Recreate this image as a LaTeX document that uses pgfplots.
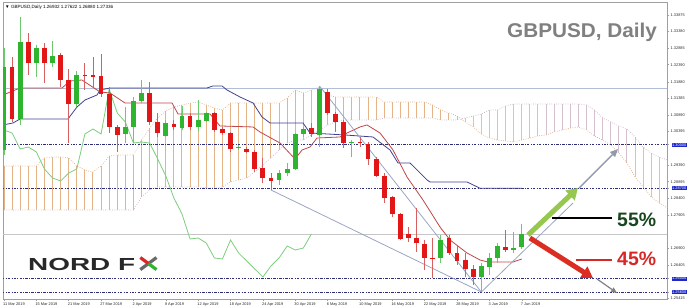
\documentclass[border=0pt]{standalone}
\usepackage{fontspec}
\setmainfont{Liberation Sans}
\usepackage{pgfplots}
\pgfplotsset{compat=1.18}
\usepackage{pgfplotstable}
\usetikzlibrary{arrows.meta}

\definecolor{bull}{RGB}{46,180,46}
\definecolor{bear}{RGB}{226,22,22}
\definecolor{bullwick}{RGB}{110,200,110}
\definecolor{bearwick}{RGB}{215,95,95}
\definecolor{sandy}{RGB}{228,180,135}
\definecolor{sandyd}{RGB}{222,170,125}
\definecolor{thist}{RGB}{214,192,208}
\definecolor{thistd}{RGB}{200,176,196}
\definecolor{tenkan}{RGB}{190,70,70}
\definecolor{kijun}{RGB}{65,65,145}
\definecolor{chikou}{RGB}{125,205,125}
\definecolor{hline}{RGB}{45,45,120}
\definecolor{trend}{RGB}{155,165,195}
\definecolor{resline}{RGB}{176,190,215}
\definecolor{boxblue}{RGB}{30,40,200}
\definecolor{greentxt}{RGB}{25,70,30}
\definecolor{redtxt}{RGB}{215,40,40}
\definecolor{arrowgreen}{RGB}{150,200,80}
\definecolor{arrowred}{RGB}{220,45,35}
\definecolor{logodark}{RGB}{40,40,40}

\pgfplotstableread{
i o h l c
0 1.29843 1.32889 1.29694 1.32322
2 1.30768 1.33815 1.30590 1.33068
4 1.32441 1.32979 1.32023 1.32889
6 1.32441 1.33098 1.32322 1.32651
9 1.31217 1.32202 1.31127 1.32083
15 1.30321 1.31127 1.30051 1.30530
16 1.30530 1.31426 1.30051 1.31306
17 1.31306 1.31933 1.31246 1.31545
20 1.30261 1.30739 1.30231 1.30649
22 1.30500 1.31157 1.30440 1.30858
24 1.30530 1.31336 1.30410 1.30739
25 1.30709 1.30977 1.30679 1.30947
29 1.29902 1.29992 1.29843 1.29932
34 1.28947 1.29245 1.28798 1.29155
35 1.29155 1.29454 1.29066 1.29275
36 1.29275 1.30350 1.29245 1.30321
37 1.30321 1.30530 1.30231 1.30470
39 1.30291 1.31754 1.29932 1.31664
43 1.30051 1.30141 1.29634 1.30081
54 1.26617 1.27304 1.26467 1.27154
59 1.26049 1.26467 1.25601 1.26378
60 1.26348 1.26766 1.26109 1.26617
61 1.26617 1.27065 1.26467 1.26975
63 1.26856 1.27393 1.26766 1.26915
64 1.26932 1.27622 1.26880 1.27336
}\bull

\pgfplotstableread{
i o h l c
1 1.32322 1.32621 1.30679 1.30768
3 1.33068 1.33337 1.32083 1.32441
5 1.32889 1.33038 1.31843 1.32441
7 1.32681 1.32740 1.31724 1.31933
8 1.31933 1.32262 1.30051 1.31217
10 1.32083 1.32441 1.31635 1.32053
11 1.32083 1.32621 1.31724 1.32023
12 1.32053 1.32711 1.31426 1.31516
13 1.31516 1.31724 1.30350 1.30530
14 1.30530 1.30590 1.29783 1.30291
18 1.31545 1.31873 1.30590 1.30679
19 1.30679 1.30947 1.30231 1.30350
21 1.30620 1.30739 1.30440 1.30530
23 1.30858 1.30947 1.30440 1.30530
26 1.30947 1.30977 1.30380 1.30440
27 1.30470 1.30530 1.30291 1.30350
28 1.30350 1.30380 1.29783 1.29872
30 1.29872 1.29932 1.29753 1.29783
31 1.29783 1.29843 1.29185 1.29275
32 1.29305 1.29604 1.28857 1.29006
33 1.29006 1.29155 1.28648 1.28917
38 1.30500 1.30649 1.30231 1.30321
40 1.31575 1.31664 1.30888 1.30947
41 1.30918 1.30977 1.30380 1.30679
42 1.30679 1.30739 1.29902 1.30051
44 1.30081 1.30231 1.29932 1.30051
45 1.30022 1.30081 1.29395 1.29574
46 1.29574 1.29634 1.29036 1.29066
47 1.29066 1.29155 1.28259 1.28409
48 1.28439 1.28469 1.27841 1.27931
49 1.27931 1.27961 1.27154 1.27184
50 1.27334 1.27543 1.27094 1.27214
51 1.27214 1.28110 1.26796 1.27064
52 1.27035 1.27154 1.26258 1.26617
53 1.26617 1.27214 1.26019 1.26587
55 1.27214 1.27304 1.26707 1.26766
56 1.26766 1.27005 1.26408 1.26527
57 1.26557 1.26766 1.26049 1.26288
58 1.26288 1.26408 1.25810 1.26049
62 1.26945 1.27453 1.26796 1.26856
}\bear

\pgfplotstableread{
i a b
0 1.29365 1.28050
1 1.29365 1.28050
2 1.29365 1.28050
3 1.29365 1.28050
4 1.29365 1.28050
5 1.29604 1.28050
6 1.29634 1.28050
7 1.29634 1.28050
8 1.29604 1.28050
9 1.29365 1.28050
10 1.29245 1.28050
11 1.29185 1.28050
12 1.29365 1.28050
13 1.29664 1.28050
14 1.29694 1.28050
15 1.29694 1.28050
16 1.29694 1.28050
17 1.30141 1.28439
18 1.30500 1.28648
19 1.30798 1.28738
20 1.31008 1.28738
21 1.31127 1.28738
22 1.31187 1.28738
23 1.31246 1.28738
24 1.31276 1.28738
25 1.31187 1.28708
26 1.31097 1.28708
27 1.31037 1.28738
28 1.31246 1.28887
29 1.31246 1.28947
30 1.31246 1.29006
31 1.31246 1.29185
32 1.31246 1.29395
33 1.31246 1.29604
34 1.31246 1.29843
35 1.31396 1.30051
36 1.31635 1.30141
37 1.31545 1.30141
38 1.31635 1.30291
39 1.31724 1.30440
40 1.31486 1.30590
41 1.31426 1.30679
42 1.31426 1.30739
43 1.31426 1.30739
44 1.31426 1.30739
45 1.31426 1.30739
46 1.31426 1.30739
47 1.31276 1.30798
48 1.31276 1.30798
49 1.31276 1.30798
50 1.31276 1.30798
51 1.31276 1.30798
52 1.31276 1.30798
53 1.31187 1.30798
54 1.31037 1.30739
55 1.30947 1.30739
56 1.30858 1.30739
57 1.30679 1.30798
58 1.30530 1.30858
59 1.30321 1.30918
60 1.30201 1.31037
61 1.30141 1.31037
62 1.30111 1.31157
63 1.30081 1.31217
64 1.30141 1.31217
65 1.30201 1.31217
66 1.30261 1.31217
67 1.30291 1.31217
68 1.30380 1.31217
69 1.30440 1.31217
70 1.30500 1.31217
71 1.30530 1.31217
72 1.30440 1.31187
73 1.30261 1.31037
74 1.30141 1.30798
75 1.29992 1.30679
76 1.29753 1.30560
77 1.29454 1.30470
78 1.29036 1.30231
79 1.28738 1.29932
80 1.28439 1.29753
81 1.28259 1.29634
82 1.28110 1.29544
}\cloud

\pgfplotstableread{
x y
-0.12 1.31486
1.98 1.31694
7.17 1.31694
8.16 1.31903
9.64 1.31933
11.87 1.31575
13.10 1.31545
14.96 1.31246
20.77 1.31246
21.51 1.30918
25.46 1.30918
26.70 1.30560
30.78 1.30530
31.64 1.30380
34.12 1.30051
35.97 1.29574
36.84 1.29843
37.82 1.29932
38.69 1.30201
41.53 1.30231
42.40 1.30350
44.00 1.30530
44.87 1.30590
46.48 1.30350
48.08 1.29843
49.81 1.29036
51.79 1.28349
53.89 1.27543
55.13 1.27154
57.23 1.26766
58.84 1.26557
59.83 1.26497
62.92 1.26497
64.00 1.26587
}\tenkan

\pgfplotstableread{
x y
-0.12 1.30590
1.11 1.30649
1.98 1.30768
7.91 1.30768
9.02 1.31127
10.01 1.31336
11.50 1.31486
11.87 1.31635
13.10 1.31694
25.09 1.31694
25.83 1.31754
26.95 1.31754
27.56 1.31635
29.17 1.31426
30.78 1.31246
31.89 1.30828
32.88 1.30649
36.96 1.30649
37.82 1.30350
42.15 1.30291
45.61 1.30231
47.71 1.29843
48.70 1.29454
50.19 1.29454
52.29 1.28947
52.66 1.28887
57.23 1.28887
58.84 1.28700
64.00 1.28700
}\kijun

\pgfplotstableread{
i v
0 1.30440
1 1.30350
2 1.29872
3 1.29932
4 1.29783
5 1.29275
6 1.29006
7 1.28917
8 1.29155
9 1.29275
10 1.30321
11 1.30470
12 1.30321
13 1.31664
14 1.30947
15 1.30679
16 1.30051
17 1.30081
18 1.30051
19 1.29574
20 1.29066
21 1.28409
22 1.27931
23 1.27184
24 1.27214
25 1.27064
26 1.26617
27 1.26587
28 1.27154
29 1.26766
30 1.26527
31 1.26288
32 1.26049
33 1.26378
34 1.26617
35 1.26975
36 1.26856
37 1.26915
38 1.27336
}\chikou

\begin{document}
\begin{tikzpicture}
\useasboundingbox (0,0) rectangle (690bp,308bp);
\begin{axis}[
  at={(3bp,9bp)}, anchor=south west,
  scale only axis, width=664bp, height=297bp,
  xmin=-0.124, xmax=81.95, ymin=1.25392, ymax=1.34263,
  axis line style={draw=gray!75, line width=0.8bp},
  tick align=outside, major tick length=2bp,
  tick style={draw=gray!75, line width=0.5bp},
  xtick pos=left, ytick pos=right, yticklabel pos=right,
  xtick={0,4,...,64},
  xticklabels={11 Mar 2019,15 Mar 2019,21 Mar 2019,27 Mar 2019,2 Apr 2019,8 Apr 2019,12 Apr 2019,18 Apr 2019,24 Apr 2019,30 Apr 2019,6 May 2019,10 May 2019,16 May 2019,22 May 2019,28 May 2019,3 Jun 2019,7 Jun 2019},
  xticklabel style={font=\fontsize{3.9}{4}\selectfont, text=black!85, anchor=north west, inner sep=0pt, xshift=-1bp, yshift=-1.2bp},
  ytick={1.25415,1.26405,1.26900,1.27905,1.28400,1.28895,1.29390,1.30395,1.30890,1.31385,1.31880,1.32390,1.32885,1.33380,1.33875},
  yticklabels={1.25415,1.26405,1.26900,1.27905,1.28400,1.28895,1.29390,1.30395,1.30890,1.31385,1.31880,1.32390,1.32885,1.33380,1.33875},
  yticklabel style={font=\fontsize{3.9}{4}\selectfont, text=black!85, anchor=west, inner sep=0pt, xshift=1.5bp},
  extra y ticks={1.30000,1.28700,1.26000,1.25600},
  extra y tick labels={1.30000,1.28700,1.26000,1.25600},
  extra y tick style={yticklabel style={fill=boxblue, text=white, inner sep=0.6bp, xshift=0.9bp}},
  every axis plot/.append style={mark=none},
]
% cloud hatching
\addplot[draw=none, mark=none, forget plot, restrict x to domain=0:56,
  error bars/.cd, y dir=plus, y explicit, error mark=none,
  error bar style={draw=sandy, line width=1bp}]
  table[x=i, y expr={min(\thisrow{a},\thisrow{b})}, y error plus expr={abs(\thisrow{a}-\thisrow{b})}] {\cloud};
\addplot[draw=none, mark=none, forget plot, restrict x to domain=57:82,
  error bars/.cd, y dir=plus, y explicit, error mark=none,
  error bar style={draw=thist, line width=1bp}]
  table[x=i, y expr={min(\thisrow{a},\thisrow{b})}, y error plus expr={abs(\thisrow{a}-\thisrow{b})}] {\cloud};
% cloud boundaries
\addplot[sandyd, mark=none, line width=0.7bp, dash pattern=on 0.7bp off 1.6bp] table[x=i, y=a] {\cloud};
\addplot[thistd, mark=none, line width=0.7bp, dash pattern=on 0.7bp off 1.6bp] table[x=i, y=b] {\cloud};
% horizontal lines
\addplot[resline, mark=none, line width=0.8bp] coordinates {(-1,1.31694) (83,1.31694)};
\addplot[gray!45, mark=none, line width=0.7bp] coordinates {(-1,1.27336) (83,1.27336)};
\addplot[hline, mark=none, line width=0.7bp, dash pattern=on 2.5bp off 1.3bp on 0.8bp off 1.3bp] coordinates {(-1,1.30000) (83,1.30000)};
\addplot[hline, mark=none, line width=0.7bp, dash pattern=on 2.5bp off 1.3bp on 0.8bp off 1.3bp] coordinates {(-1,1.28700) (83,1.28700)};
\addplot[hline, mark=none, line width=0.7bp, dash pattern=on 2.5bp off 1.3bp on 0.8bp off 1.3bp] coordinates {(-1,1.26000) (83,1.26000)};
\addplot[hline, mark=none, line width=0.7bp, dash pattern=on 2.5bp off 1.3bp on 0.8bp off 1.3bp] coordinates {(-1,1.25600) (83,1.25600)};
% ichimoku lines
\addplot[chikou, mark=none, line width=0.8bp] table[x=i, y=v] {\chikou};
\addplot[kijun, mark=none, line width=0.8bp] table[x=x, y=y] {\kijun};
\addplot[tenkan, mark=none, line width=0.8bp] table[x=x, y=y] {\tenkan};
% trend lines
\addplot[trend, mark=none, line width=0.8bp] coordinates {(39,1.31754) (59,1.25601)};
\addplot[trend, mark=none, line width=0.8bp] coordinates {(33,1.28648) (59,1.25601)};
\addplot[trend, mark=none, line width=0.8bp] coordinates {(59,1.25601) (70.33,1.28259)};
% candles: wicks
\addplot[draw=none, mark=none, forget plot, error bars/.cd, y dir=plus, y explicit, error mark=none,
  error bar style={draw=bullwick, line width=0.9bp}]
  table[x=i, y=l, y error plus expr={\thisrow{h}-\thisrow{l}}] {\bull};
\addplot[draw=none, mark=none, forget plot, error bars/.cd, y dir=plus, y explicit, error mark=none,
  error bar style={draw=bearwick, line width=0.9bp}]
  table[x=i, y=l, y error plus expr={\thisrow{h}-\thisrow{l}}] {\bear};
% candles: bodies
\addplot[draw=none, mark=none, forget plot, error bars/.cd, y dir=plus, y explicit, error mark=none,
  error bar style={draw=bull, line width=4.8bp}]
  table[x=i, y=o, y error plus expr={\thisrow{c}-\thisrow{o}}] {\bull};
\addplot[draw=none, mark=none, forget plot, error bars/.cd, y dir=plus, y explicit, error mark=none,
  error bar style={draw=bear, line width=4.8bp}]
  table[x=i, y=c, y error plus expr={\thisrow{o}-\thisrow{c}}] {\bear};
% arrows and annotations
\draw[trend!70!gray, line width=1.4bp, -{Triangle[width=7bp,length=8bp]}] (axis cs:71.08,1.28708) -- (axis cs:75.9,1.29872);
\draw[arrowgreen, line width=5bp, -{Triangle[width=13bp,length=11bp]}] (axis cs:64.77,1.27304) -- (axis cs:70.95,1.28708);
\draw[gray, line width=1.2bp, -{Triangle[width=5bp,length=6bp]}] (axis cs:73.3,1.25989) -- (axis cs:75.77,1.25571);
\draw[arrowred, line width=5bp, -{Triangle[width=13bp,length=11bp]}] (axis cs:65.0,1.27214) -- (axis cs:72.8,1.26019);
\draw[black, line width=1.2bp] (axis cs:67.74,1.27811) -- (axis cs:75.15,1.27811);
\draw[redtxt, line width=1.2bp] (axis cs:70.7,1.26557) -- (axis cs:75.15,1.26557);
\node[anchor=base west, inner sep=0pt, font=\fontsize{19.5}{20}\bfseries, text=greentxt] at (axis cs:75.77,1.27543) {55\%};
\node[anchor=base west, inner sep=0pt, font=\fontsize{19.5}{20}\bfseries, text=redtxt] at (axis cs:75.77,1.26378) {45\%};
\node[anchor=base east, inner sep=0pt, font=\fontsize{20}{20}\bfseries, text=black!50] at (axis cs:80.72,1.33188) {\scalebox{1.04}[1]{GBPUSD, Daily}};
\node[anchor=base west, inner sep=0pt, font=\fontsize{17.5}{18}\bfseries, text=logodark] at (axis cs:2.97,1.26258) {\scalebox{1.6}[1]{NORD F}};
\draw[logodark!70, line width=3.2bp] (axis cs:18.85,1.26630) -- (axis cs:16.85,1.26270);
\draw[redtxt, line width=3.2bp] (axis cs:16.85,1.26630) -- (axis cs:17.85,1.26450);
\draw[bull, line width=3.2bp] (axis cs:17.85,1.26450) -- (axis cs:18.85,1.26270);
\node[fill=black, text=white, font=\fontsize{3.9}{4}\selectfont, anchor=west, inner sep=0.6bp] at (axis cs:81.95,1.27336) [xshift=0.9bp] {1.27336};
\node[anchor=north west, inner sep=0pt, font=\fontsize{4.6}{5}\selectfont] at (rel axis cs:0,1) [xshift=2bp, yshift=-3bp] {▼ GBPUSD,Daily  1.26932 1.27622 1.26880 1.27336};
\end{axis}
\end{tikzpicture}
\end{document}
